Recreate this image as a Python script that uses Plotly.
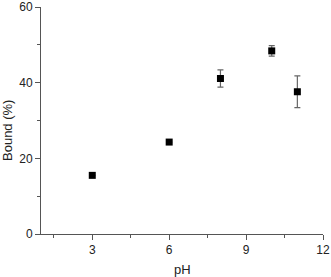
import plotly.graph_objects as go

ph = [3, 6, 8, 10, 11]
bound = [15.5, 24.3, 41.1, 48.4, 37.6]
err = [0, 0, 2.3, 1.4, 4.2]
x_ticks = [3, 6, 9, 12]
y_ticks = [0, 20, 40, 60]

fig = go.Figure(go.Scatter(
    x=ph, y=bound, mode="markers",
    marker=dict(symbol="square", size=7, color="black"),
    error_y=dict(type="data", array=err, visible=True, color="#666666", thickness=1.2, width=3),
))

tick_font = dict(family="Liberation Sans, Arial, sans-serif", size=12, color="#222222")
title_font = dict(family="Liberation Sans, Arial, sans-serif", size=13, color="#222222")
axis_common = dict(showgrid=False, zeroline=False, showline=True, linecolor="#555555", linewidth=1,
                   ticks="outside", ticklen=5, tickcolor="#555555", mirror=False, tickfont=tick_font,
                   automargin=False)

fig.update_layout(
    width=331, height=277,
    margin=dict(l=41, r=7.5, t=6.5, b=43),
    paper_bgcolor="white", plot_bgcolor="white",
    showlegend=False,
    xaxis=dict(range=[1, 12], tickvals=x_ticks,
               minor=dict(tickvals=[1.5, 4.5, 7.5, 10.5], ticks="outside", ticklen=3, tickcolor="#555555"),
               **axis_common),
    yaxis=dict(range=[0, 60], tickvals=y_ticks,
               minor=dict(tickvals=[10, 30, 50], ticks="outside", ticklen=3, tickcolor="#555555"),
               **axis_common),
    annotations=[
        dict(text="pH", xref="paper", yref="paper", x=0.5, y=0, xanchor="center", yanchor="middle",
             yshift=-35, showarrow=False, font=title_font),
        dict(text="Bound (%)", xref="paper", yref="paper", x=0, y=0.5, xanchor="center", yanchor="middle",
             xshift=-33.5, yshift=-10, textangle=-90, showarrow=False, font=title_font),
    ],
)

fig.write_html("out.html", config={"displayModeBar": False},
               post_script="document.body.style.margin='0';document.body.style.overflow='hidden';")
